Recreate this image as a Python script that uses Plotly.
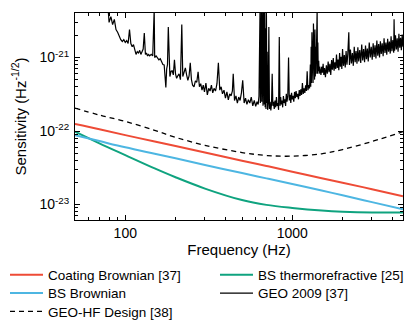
import plotly.graph_objects as go

# ---------------- data ----------------
freq_model = [50, 70, 100, 150, 200, 300, 500, 700, 1000, 1500, 2000, 3000, 4600]
coating_brownian = [1.25e-22, 1.06e-22, 8.8e-23, 7.2e-23, 6.25e-23, 5.1e-23, 3.95e-23,
                    3.35e-23, 2.8e-23, 2.28e-23, 1.98e-23, 1.62e-23, 1.3e-23]
bs_brownian = [8.8e-23, 7.3e-23, 6.0e-23, 4.9e-23, 4.25e-23, 3.45e-23, 2.68e-23,
               2.27e-23, 1.9e-23, 1.55e-23, 1.34e-23, 1.08e-23, 8.6e-24]
bs_thermorefractive = [9.8e-23, 6.8e-23, 4.7e-23, 3.1e-23, 2.35e-23, 1.65e-23, 1.15e-23,
                       9.9e-24, 9.0e-24, 8.3e-24, 8.0e-24, 7.8e-24, 7.8e-24]
geo_hf_design = [2.05e-22, 1.65e-22, 1.35e-22, 1.02e-22, 8.2e-23, 6.4e-23, 5.1e-23,
                 4.65e-23, 4.55e-23, 4.9e-23, 5.6e-23, 7.2e-23, 9.8e-23]

# GEO 2009 measured spectrum (values in units of 1e-22 /sqrt(Hz))
geo_freq = [79, 80, 82, 84, 86, 88, 90, 92, 94, 96, 98, 100, 102, 104, 106, 108, 110, 112, 114, 116,
            118, 120, 122, 124, 126, 128, 130, 132, 134, 136, 138, 140, 143, 146, 149, 150, 153, 156,
            159, 162, 165, 168, 171, 174, 175, 177, 179, 181, 183, 185, 188, 191, 194, 197, 200, 203,
            206, 210, 214, 218, 221, 225, 229, 233, 237, 241, 245, 249, 253, 258, 263, 268, 273, 278,
            283, 288, 293, 298, 304, 310, 316, 322, 328, 334, 340, 347, 354, 361, 368, 375, 382, 390,
            398, 406, 414, 422, 430, 438, 443, 451, 460, 469, 478, 487, 496, 505, 515, 525, 535, 546,
            557, 568, 580, 592, 604, 615, 625, 632, 635, 638, 641, 644, 647, 650, 653, 656, 659, 662,
            665, 668, 671, 674, 677, 680, 684, 688, 692, 696, 700, 704, 708, 712, 718, 724, 730, 737,
            744, 751, 758, 765, 772, 780, 788, 796, 804, 812, 820, 828, 836, 844, 852, 860, 868, 876,
            885, 894, 903, 912, 921, 930, 940, 950, 960, 970, 980, 990, 1000, 1010, 1021, 1032, 1043,
            1054, 1065, 1077, 1089, 1101, 1113, 1125, 1137, 1150, 1163, 1176, 1189, 1202, 1215, 1228,
            1241, 1255, 1269, 1283, 1290, 1297, 1304, 1311, 1318, 1325, 1332, 1339, 1346, 1353, 1360,
            1367, 1374, 1381, 1388, 1395, 1402, 1409, 1416, 1423, 1430, 1440, 1450, 1460, 1470, 1485,
            1500, 1515, 1530, 1545, 1560, 1580, 1600, 1620, 1640, 1660, 1680, 1700, 1720, 1740, 1760,
            1780, 1800, 1820, 1840, 1860, 1880, 1900, 1920, 1940, 1960, 1980, 2000, 2025, 2050, 2075,
            2100, 2125, 2150, 2180, 2200, 2230, 2260, 2290, 2320, 2350, 2380, 2410, 2440, 2470, 2500,
            2535, 2570, 2605, 2640, 2675, 2710, 2745, 2780, 2815, 2850, 2890, 2930, 2970, 3010, 3050,
            3090, 3130, 3170, 3210, 3250, 3290, 3330, 3370, 3410, 3455, 3500, 3545, 3590, 3635, 3680,
            3725, 3770, 3815, 3860, 3905, 3950, 4000, 4050, 4070, 4100, 4150, 4200, 4250, 4300, 4350,
            4400, 4450, 4500, 4550, 4600]
geo_val = [45, 30, 36, 28, 33, 24, 22, 19, 17.5, 16.5, 17.5, 16, 17, 15.5, 24, 15.5, 14, 15, 13, 11,
           12, 11.5, 12.5, 11, 12, 13, 21.5, 11, 11.5, 10.5, 11, 10.5, 11, 10.5, 45, 10, 10.5, 9.8,
           9.3, 9.6, 8.5, 8, 7.9, 5, 3.9, 7, 8, 26, 6, 5.5, 6.5, 6.6, 5.8, 9.3, 6, 5.2,
           5.6, 6, 5, 28, 5.5, 6.3, 7.2, 5.8, 4.9, 5.6, 8.5, 5, 4.2, 4.0, 4.8, 4.6, 6.4, 4.0,
           4.4, 3.6, 4.2, 3.4, 4.5, 3.1, 3.8, 3.5, 4.2, 3.3, 3.8, 3.5, 4.4, 8.5, 3.6, 4.0, 3.2, 3.6,
           2.8, 3.4, 2.66, 3.2, 3.0, 3.5, 6.0, 2.6, 3.0, 2.4, 2.9, 2.6, 3.3, 4.9, 2.4, 2.8, 2.3, 2.66,
           2.4, 2.9, 2.2, 2.6, 2.16, 2.5, 2.3, 3, 45, 3, 45, 2.4, 45, 2.8, 45, 2.5, 45, 3,
           45, 2.2, 45, 2.6, 30, 2.3, 45, 2.1, 25, 2.0, 45, 2.4, 12, 1.94, 2.4, 26, 2.0, 2.5,
           1.9, 2.3, 6, 2.2, 2.5, 2.0, 2.6, 2.1, 2.9, 2.2, 2.4, 1.94, 19, 2.2, 2.9, 2.3, 2.6, 2.1,
           3.0, 2.4, 2.7, 2.2, 3.2, 2.5, 3.0, 10, 2.6, 3.1, 2.4, 3.3, 2.7, 3.0, 2.5, 3.4, 2.8,
           3.5, 2.9, 3.2, 2.7, 3.6, 3.0, 3.7, 3.1, 4.5, 3.2, 3.8, 3.3, 4.2, 3.5, 6.5,
           3.6, 4.2, 3.8, 8, 4, 14, 4.5, 22, 5, 12, 4.5, 29, 6, 18, 5,
           24, 5.5, 14, 6, 20, 6.5, 45, 6, 16, 6.5, 9, 6, 7.5, 6.8, 5.8,
           7.5, 6.2, 8.2, 5.8, 7.2, 5.4, 7.8, 6.0, 8.8, 6.3, 8.2, 5.8, 9.2, 6.8, 9.8,
           6.6, 8.6, 7.0, 11, 7.2, 9.4, 6.7, 11.5, 7.5, 10.2, 7.0, 13, 7.7, 10.8, 7.3,
           12.2, 8.0, 11.2, 22, 7.9, 12.8, 8.3, 11.5, 7.7, 14, 8.6, 12.2, 8.2, 13.8, 8.8,
           12.6, 8.4, 15, 9.1, 13, 8.6, 14.5, 9.5, 13.2, 8.8, 16, 10, 14, 9.3, 15.6,
           10.2, 14.6, 9.7, 17, 10.6, 15.2, 10, 16.6, 11.2, 15.6, 10.4, 18.2, 11.5, 16, 10.9,
           18, 12, 16.5, 11.3, 19.4, 12.2, 17.2, 11.6, 33, 12.4, 20, 12.9, 18.2, 12, 21,
           13.6, 18.5, 12.6, 20.5, 14]
geo_2009 = [v * 1e-22 for v in geo_val]

y_tickvals = [1e-23, 1e-22, 1e-21]
y_ticktext = ["10<sup>-23</sup>", "10<sup>-22</sup>", "10<sup>-21</sup>"]
x_tickvals = [100, 1000]
x_ticktext = ["100", "1000"]

# ---------------- figure ----------------
FONT = "Liberation Sans, Arial, sans-serif"
fig = go.Figure()

fig.add_trace(go.Scatter(x=freq_model, y=coating_brownian, mode="lines",
                         name="Coating Brownian [37]", legend="legend",
                         line=dict(color="#EE4B36", width=2, shape="spline")))
fig.add_trace(go.Scatter(x=freq_model, y=bs_thermorefractive, mode="lines",
                         name="BS thermorefractive [25]", legend="legend2",
                         line=dict(color="#0FA37F", width=2, shape="spline")))
fig.add_trace(go.Scatter(x=freq_model, y=bs_brownian, mode="lines",
                         name="BS Brownian", legend="legend3",
                         line=dict(color="#4DB6E2", width=2, shape="spline")))
fig.add_trace(go.Scatter(x=geo_freq, y=geo_2009, mode="lines",
                         name="GEO 2009 [37]", legend="legend4",
                         line=dict(color="black", width=1.2)))
fig.add_trace(go.Scatter(x=freq_model, y=geo_hf_design, mode="lines",
                         name="GEO-HF Design [38]", legend="legend5",
                         line=dict(color="black", width=1.3, dash="5px,4px", shape="spline")))

axis_common = dict(
    type="log", showline=True, linecolor="black", linewidth=1, mirror="allticks",
    ticks="inside", ticklen=5, tickcolor="black", showgrid=False, zeroline=False,
    automargin=False,
    tickfont=dict(family=FONT, size=14, color="black"),
    minor=dict(ticks="inside", ticklen=3, tickcolor="black", dtick="D1", showgrid=False),
)

fig.update_xaxes(**axis_common, range=[1.699, 3.663], tickmode="array",
                 tickvals=x_tickvals, ticktext=x_ticktext,
                 title=dict(text="Frequency (Hz)", font=dict(family=FONT, size=15, color="black"),
                            standoff=4))
fig.update_yaxes(**axis_common, range=[-23.21, -20.395], tickmode="array",
                 tickvals=y_tickvals, ticktext=y_ticktext, ticklabelstandoff=2,
                 title=dict(text="Sensitivity (Hz<sup>-1/2</sup>)",
                            font=dict(family=FONT, size=15, color="black"), standoff=9))

legend_common = dict(orientation="v", xanchor="left", yanchor="top", yref="paper", xref="paper",
                     bgcolor="rgba(0,0,0,0)", font=dict(family=FONT, size=13.5, color="black"),
                     itemwidth=33, tracegroupgap=0)

col1_x, col2_x = -0.2134, 0.4268
row_y = [-0.1908, -0.2792, -0.3681]

fig.update_layout(
    width=407, height=321,
    margin=dict(l=67, r=12, t=5, b=109, autoexpand=False),
    paper_bgcolor="white", plot_bgcolor="white",
    font=dict(family=FONT, color="black"),
    showlegend=True,
    legend=dict(**legend_common, x=col1_x, y=row_y[0]),
    legend2=dict(**legend_common, x=col2_x, y=row_y[0]),
    legend3=dict(**legend_common, x=col1_x, y=row_y[1]),
    legend4=dict(**legend_common, x=col2_x, y=row_y[1]),
    legend5=dict(**legend_common, x=col1_x, y=row_y[2]),
)

fig.write_html("out.html")
